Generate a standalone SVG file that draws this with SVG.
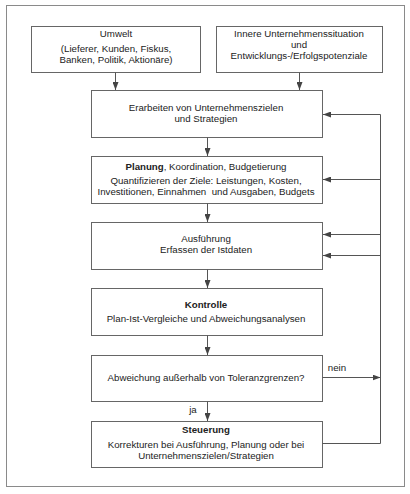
<svg xmlns="http://www.w3.org/2000/svg" width="410" height="494" viewBox="0 0 410 494">
<defs>
<style>
.frame{fill:none;stroke:#8a8a8a;stroke-width:1}
.box{fill:#fff;stroke:#666;stroke-width:1}
.t{font-family:"Liberation Sans",Arial,sans-serif;font-size:9.7px;fill:#222;text-anchor:middle}
.b{font-weight:bold}
.c{fill:none;stroke:#555;stroke-width:1}
</style>
<marker id="ah" viewBox="0 0 8 6" refX="8" refY="3" markerWidth="8" markerHeight="6" markerUnits="userSpaceOnUse" orient="auto">
<path d="M0,0 L8,3 L0,6 Z" fill="#444"/>
</marker>
</defs>
<rect width="410" height="494" fill="#fff"/>
<rect class="frame" x="6.5" y="5.5" width="398" height="481"/>

<g id="umwelt">
<rect class="box" x="31.5" y="26.5" width="169" height="46"/>
<text class="t" x="116" y="37">Umwelt</text>
<text class="t" x="116" y="52">(Lieferer, Kunden, Fiskus,</text>
<text class="t" x="116" y="63">Banken, Politik, Aktionäre)</text>
</g>
<g id="innere">
<rect class="box" x="216.5" y="26.5" width="166" height="46"/>
<text class="t" x="299" y="37">Innere Unternehmenssituation</text>
<text class="t" x="299" y="48">und</text>
<text class="t" x="299" y="59">Entwicklungs-/Erfolgspotenziale</text>
</g>
<g id="erarbeiten">
<rect class="box" x="91.5" y="90.5" width="231" height="47"/>
<text class="t" x="206" y="111">Erarbeiten von Unternehmenszielen</text>
<text class="t" x="206" y="122">und Strategien</text>
</g>
<g id="planung">
<rect class="box" x="91.5" y="156.5" width="231" height="47"/>
<text class="t" x="206" y="170"><tspan class="b">Planung</tspan>, Koordination, Budgetierung</text>
<text class="t" x="206" y="184">Quantifizieren der Ziele: Leistungen, Kosten,</text>
<text class="t" x="206" y="195" xml:space="preserve">Investitionen, Einnahmen  und Ausgaben, Budgets</text>
</g>
<g id="ausfuehrung">
<rect class="box" x="91.5" y="222.5" width="231" height="47"/>
<text class="t" x="206" y="242">Ausführung</text>
<text class="t" x="206" y="253">Erfassen der Istdaten</text>
</g>
<g id="kontrolle">
<rect class="box" x="91.5" y="288.5" width="231" height="47"/>
<text class="t b" x="206" y="308">Kontrolle</text>
<text class="t" x="206" y="322">Plan-Ist-Vergleiche und Abweichungsanalysen</text>
</g>
<g id="abweichung">
<rect class="box" x="91.5" y="355.5" width="231" height="46"/>
<text class="t" x="206" y="381">Abweichung außerhalb von Toleranzgrenzen?</text>
</g>
<g id="steuerung">
<rect class="box" x="91.5" y="421.5" width="231" height="46"/>
<text class="t b" x="206" y="433">Steuerung</text>
<text class="t" x="206" y="448">Korrekturen bei Ausführung, Planung oder bei</text>
<text class="t" x="206" y="459">Unternehmenszielen/Strategien</text>
</g>

<g id="connectors">
<path class="c" d="M115.5,72.5 V90" marker-end="url(#ah)"/>
<path class="c" d="M299.5,72.5 V90" marker-end="url(#ah)"/>
<path class="c" d="M207.5,137.5 V156" marker-end="url(#ah)"/>
<path class="c" d="M207.5,203.5 V222" marker-end="url(#ah)"/>
<path class="c" d="M207.5,269.5 V288" marker-end="url(#ah)"/>
<path class="c" d="M207.5,335.5 V355" marker-end="url(#ah)"/>
<path class="c" d="M207.5,401.5 V421" marker-end="url(#ah)"/>
<path class="c" d="M322.5,377.5 H380.5" marker-end="url(#ah)"/>
<path class="c" d="M322.5,443.5 H380.5 V114.5 H323" marker-end="url(#ah)"/>
<path class="c" d="M380.5,179.5 H323" marker-end="url(#ah)"/>
<path class="c" d="M380.5,234.5 H323" marker-end="url(#ah)"/>
<path class="c" d="M380.5,255.5 H323" marker-end="url(#ah)"/>
<text class="t" x="193" y="413">ja</text>
<text class="t" x="337" y="371">nein</text>
</g>
</svg>
